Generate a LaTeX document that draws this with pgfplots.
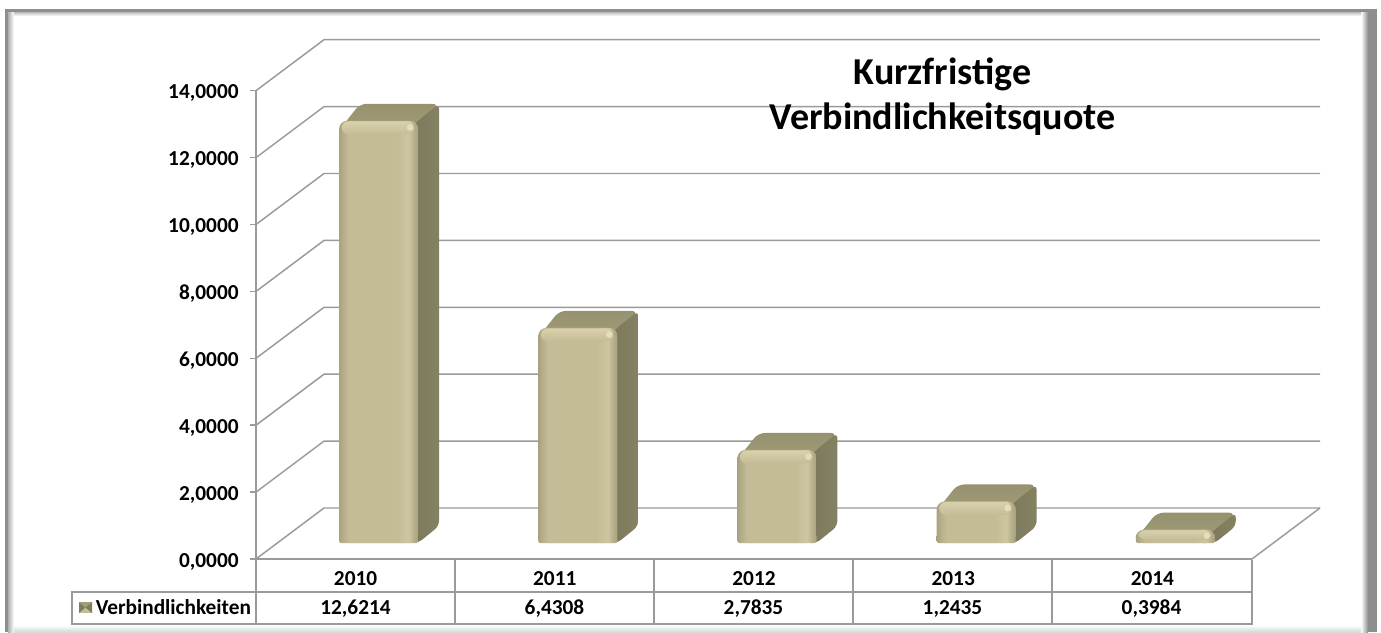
\documentclass[border=0pt]{standalone}
\usepackage{fontspec}
\setmainfont{Carlito}
\usepackage{pgfplots}
\usepackage{pgfplotstable}
\pgfplotsset{compat=1.18}
\definecolor{gridc}{HTML}{9A9A9A}
\definecolor{fr}{HTML}{C4BC96}
\definecolor{frl}{HTML}{B4AE8A}
\definecolor{frr}{HTML}{CDC6A0}
\definecolor{frd}{HTML}{A8A27E}
\definecolor{frt}{HTML}{D8D1AC}
\definecolor{tp}{HTML}{A29C78}
\definecolor{tpl}{HTML}{96916E}
\definecolor{sd}{HTML}{7F7B5E}
\definecolor{sdd}{HTML}{7B775A}
\definecolor{sdl}{HTML}{858163}
\definecolor{frame}{HTML}{8E8E8E}
\definecolor{hla}{HTML}{E4DEBC}
\pgfdeclarehorizontalshading{barfront}{100bp}{
 color(0bp)=(frd); color(25bp)=(frd); color(27.5bp)=(frl); color(31bp)=(fr);
 color(62bp)=(fr); color(69bp)=(frr); color(72.5bp)=(frl); color(75bp)=(frd); color(100bp)=(frd)}
\newcommand\BarThreeD[2]{%
 \pgfmathsetmacro\xR{#1+0.3133}\pgfmathsetmacro\xRb{#1+0.4187}%
 \pgfmathsetmacro\xRi{#1+0.2633}%
 \pgfmathsetmacro\xL{#1-0.0833}\pgfmathsetmacro\xLb{#1+0.0221}%
 \pgfmathsetmacro\xLi{#1-0.0703}\pgfmathsetmacro\xRj{#1+0.2933}%
 \pgfmathsetmacro\xH{#1+0.2733}%
 \pgfmathsetmacro\yB{0.478}\pgfmathsetmacro\yBb{0.986}%
 \pgfmathsetmacro\yT{#2+0.478}\pgfmathsetmacro\yTb{#2+0.986}%
 \pgfmathsetmacro\yTi{#2+0.478-0.28}%
 \pgfmathsetmacro\yBand{#2+0.478-0.02}\pgfmathsetmacro\yBandB{#2+0.478-min(0.4,0.75*#2)}%
 \pgfmathsetmacro\yH{#2+0.478-min(0.2,0.45*#2)}%
 \addplot[draw=none,rounded corners=5pt,top color=tpl,bottom color=tp]
   coordinates {(\xL,\yTi) (\xLb,\yTb) (\xRb,\yTb) (\xR,\yTi)} --cycle;
 \addplot[draw=none,rounded corners=4pt,left color=sdd,right color=sdl]
   coordinates {(\xRi,\yB) (\xR,\yB) (\xRb,\yBb) (\xRb,\yTb) (\xR,\yT) (\xRi,\yTi)} --cycle;
 \addplot[ybar,bar shift=0pt,bar width=59.25pt,xshift=17.25pt,yshift=12pt,draw=none,
   rounded corners=6pt,shading=barfront] coordinates {(#1,#2)};
 \addplot[ybar,bar shift=0pt,bar width=59.25pt,xshift=17.25pt,yshift=12pt,draw=none,
   rounded corners=1.5pt,shading=barfront] coordinates {(#1,0.27)};
 \addplot[draw=none,rounded corners=5pt,top color=frt,bottom color=fr]
   coordinates {(\xLi,\yBandB) (\xLi,\yBand) (\xRj,\yBand) (\xRj,\yBandB)} --cycle;
 \addplot[hla,only marks,mark=*,mark size=2.2pt,mark options={hla,fill=hla}]
   coordinates {(\xH,\yH)};
}
\begin{document}
\begin{tikzpicture}
\begin{axis}[
  at={(192pt,-419.25pt)},anchor=south west,
  scale only axis,width=747pt,height=351.225pt,
  xmin=-0.5,xmax=4.5,ymin=0,ymax=14,clip=false,
  axis y line=left,axis x line=bottom,
  axis line style={-,gridc,line width=1.1pt},
  ytick={0,2,...,14},xtick={0,1,2,3,4},
  xticklabels={2010,2011,2012,2013,2014},
  x tick style={draw=none},
  y tick style={gridc,line width=1.1pt},
  major tick length=4.5pt,
  tick align=outside,
  scaled y ticks=false,
  /pgf/number format/.cd,fixed,fixed zerofill,precision=4,use comma,assume math mode=true,
  /pgfplots/.cd,
  y tick label style={font=\fontsize{16}{18}\selectfont\bfseries,xshift=-5pt,yshift=-2pt},
  x tick label style={font=\fontsize{16}{18}\selectfont\bfseries,yshift=-1.5pt},
]
\pgfplotsinvokeforeach{0,2,...,14}{
  \draw[gridc,line width=1.1pt] (axis cs:-0.5,#1) -- (axis cs:-0.1586,#1+1.5247) -- (axis cs:4.8414,#1+1.5247);
}
\draw[gridc,line width=1.1pt] (axis cs:4.5,0) -- (axis cs:4.8414,1.5247);
\BarThreeD{0}{12.6214}
\BarThreeD{1}{6.4308}
\BarThreeD{2}{2.7835}
\BarThreeD{3}{1.2435}
\BarThreeD{4}{0.3984}
\end{axis}
\begin{scope}[x=0.75pt,y=-0.75pt]
  % table
  \draw[gridc,line width=1.1pt] (72,592) rectangle (1252,624);
  \draw[gridc,line width=1.1pt] (1252,560) -- (1252,624);
  \foreach \X in {256,455,654,853,1052} \draw[gridc,line width=1.1pt] (\X,560) -- (\X,624);
  \foreach \X/\T in {355.5/{12,6214},554.5/{6,4308},753.5/{2,7835},952.5/{1,2435},1151.5/{0,3984}}
    \node[font=\fontsize{16}{18}\selectfont\bfseries,anchor=base] at (\X,614) {\T};
  \node[font=\fontsize{16}{18}\selectfont\bfseries,anchor=base west,inner sep=0pt] at (95.5,614) {Verbindlichkeiten};
  % legend key
  \fill[fr] (79,602) rectangle (92,613);
  \fill[sd] (79,602) -- (85.5,607.5) -- (79,613) -- cycle;
  \fill[sd] (92,602) -- (85.5,607.5) -- (92,613) -- cycle;
  \fill[tp] (79,602) -- (85.5,607.5) -- (92,602) -- cycle;
  % title
  \node[font=\fontsize{28.5}{30}\selectfont\bfseries,anchor=base] at (942.5,84) {Kurzfristige};
  \node[font=\fontsize{28.5}{30}\selectfont\bfseries,anchor=base] at (942.5,129) {Verbindlichkeitsquote};
  % frame
  \fill[frame] (5,9) rectangle (1377,12);
  \fill[frame] (5,9) rectangle (8,632);
  \fill[frame] (1368,9) rectangle (1377,632);
  \shade[left color=frame!70,right color=white] (8,12) rectangle (14,632);
  \shade[left color=white,right color=frame] (1361,12) rectangle (1368,632);
  \shade[top color=frame!60,bottom color=white] (14,12) rectangle (1361,16);
  \shade[top color=white,bottom color=frame!35] (14,625) rectangle (1361,632);
  \path[use as bounding box] (0,0) rectangle (1381,632);
\end{scope}
\end{tikzpicture}
\end{document}
